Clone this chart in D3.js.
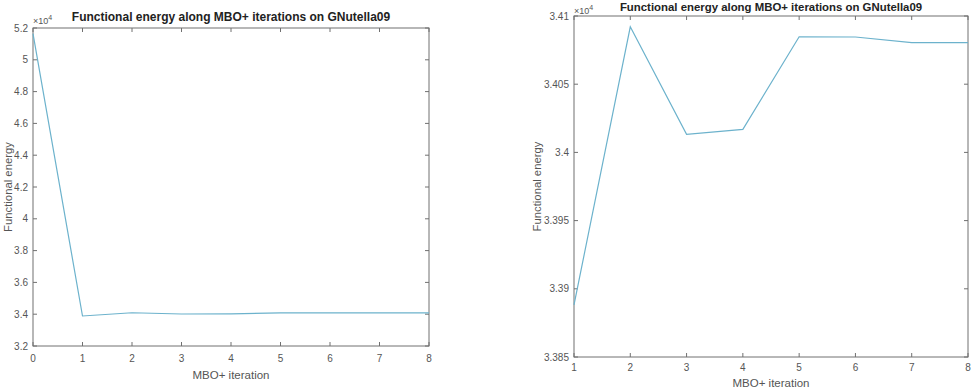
<!DOCTYPE html>
<html><head><meta charset="utf-8">
<script src="https://cdn.jsdelivr.net/npm/d3@7"></script>
<style>body{margin:0;background:#fff}svg{display:block}</style>
</head><body>
<script>
// Data (energy in units of 1e4)
const titleText = "Functional energy along MBO+ iterations on GNutella09";
const xLabel = "MBO+ iteration";
const yLabel = "Functional energy";
const leftIter = [0,1,2,3,4,5,6,7,8];
const leftEnergy = [5.165,3.3888,3.4092,3.4013,3.4017,3.4085,3.4085,3.4081,3.4081];
const leftXTicks = [0,1,2,3,4,5,6,7,8];
const leftYTicks = [3.2,3.4,3.6,3.8,4,4.2,4.4,4.6,4.8,5,5.2];
const rightIter = [1,2,3,4,5,6,7,8];
const rightEnergy = [3.38882,3.40921,3.40132,3.40169,3.40848,3.40846,3.40805,3.40805];
const rightXTicks = [1,2,3,4,5,6,7,8];
const rightYTicks = [3.385,3.39,3.395,3.4,3.405,3.41];

const svg = d3.select("body").append("svg").attr("width",978).attr("height",390);
const axisColor = "#707070", textColor = "#555", lineColor = "#6cb2cc";
const fmt = d => String(+d.toFixed(4));

function panel(cfg){
  const {x0,x1,y0,y1,xDom,yDom,xs,ys,xt,yt,titleY,titleSize,expY,xlabY,xtY,ylabX} = cfg;
  const x = d3.scaleLinear().domain(xDom).range([x0,x1]);
  const y = d3.scaleLinear().domain(yDom).range([y1,y0]);
  const g = svg.append("g");
  g.append("rect").attr("x",x0).attr("y",y0).attr("width",x1-x0).attr("height",y1-y0)
    .attr("fill","none").attr("stroke",axisColor).attr("stroke-width",1);
  const tl = 4;
  xt.forEach(v=>{
    g.append("line").attr("x1",x(v)).attr("x2",x(v)).attr("y1",y1).attr("y2",y1-tl).attr("stroke",axisColor);
    g.append("line").attr("x1",x(v)).attr("x2",x(v)).attr("y1",y0).attr("y2",y0+tl).attr("stroke",axisColor);
    g.append("text").attr("x",x(v)).attr("y",xtY).attr("text-anchor","middle")
      .attr("font-family","Liberation Sans, Arial, sans-serif").attr("font-size",10).attr("fill",textColor).text(fmt(v));
  });
  yt.forEach(v=>{
    g.append("line").attr("x1",x0).attr("x2",x0+tl).attr("y1",y(v)).attr("y2",y(v)).attr("stroke",axisColor);
    g.append("line").attr("x1",x1).attr("x2",x1-tl).attr("y1",y(v)).attr("y2",y(v)).attr("stroke",axisColor);
    g.append("text").attr("x",x0-5).attr("y",y(v)+3.5).attr("text-anchor","end")
      .attr("font-family","Liberation Sans, Arial, sans-serif").attr("font-size",10).attr("fill",textColor).text(fmt(v));
  });
  const line = d3.line().x((d,i)=>x(xs[i])).y(d=>y(d));
  g.append("path").datum(ys).attr("d",line).attr("fill","none").attr("stroke",lineColor).attr("stroke-width",1.2);
  g.append("text").attr("x",(x0+x1)/2).attr("y",titleY).attr("text-anchor","middle")
    .attr("font-family","Liberation Sans, Arial, sans-serif").attr("font-size",titleSize).attr("font-weight","bold").attr("fill","#222").text(titleText);
  const e = g.append("text").attr("x",x0).attr("y",expY)
    .attr("font-family","Liberation Sans, Arial, sans-serif").attr("font-size",9).attr("fill",textColor);
  e.append("tspan").text("\u00d710");
  e.append("tspan").attr("dy",-4).attr("font-size",7).text("4");
  g.append("text").attr("x",(x0+x1)/2).attr("y",xlabY).attr("text-anchor","middle")
    .attr("font-family","Liberation Sans, Arial, sans-serif").attr("font-size",11.5).attr("fill",textColor).text(xLabel);
  g.append("text").attr("transform",`translate(${ylabX},${(y0+y1)/2}) rotate(-90)`).attr("text-anchor","middle")
    .attr("font-family","Liberation Sans, Arial, sans-serif").attr("font-size",11.3).attr("fill",textColor).text(yLabel);
}

panel({x0:33,x1:429,y0:28,y1:346,xDom:[0,8],yDom:[3.2,5.2],xs:leftIter,ys:leftEnergy,
  xt:leftXTicks,yt:leftYTicks,titleY:21,titleSize:12,expY:24,xlabY:379,xtY:362,ylabX:12});
panel({x0:574,x1:968,y0:16,y1:357,xDom:[1,8],yDom:[3.385,3.41],xs:rightIter,ys:rightEnergy,
  xt:rightXTicks,yt:rightYTicks,titleY:11,titleSize:11.4,expY:14,xlabY:387,xtY:371,ylabX:541});
</script>
</body></html>
